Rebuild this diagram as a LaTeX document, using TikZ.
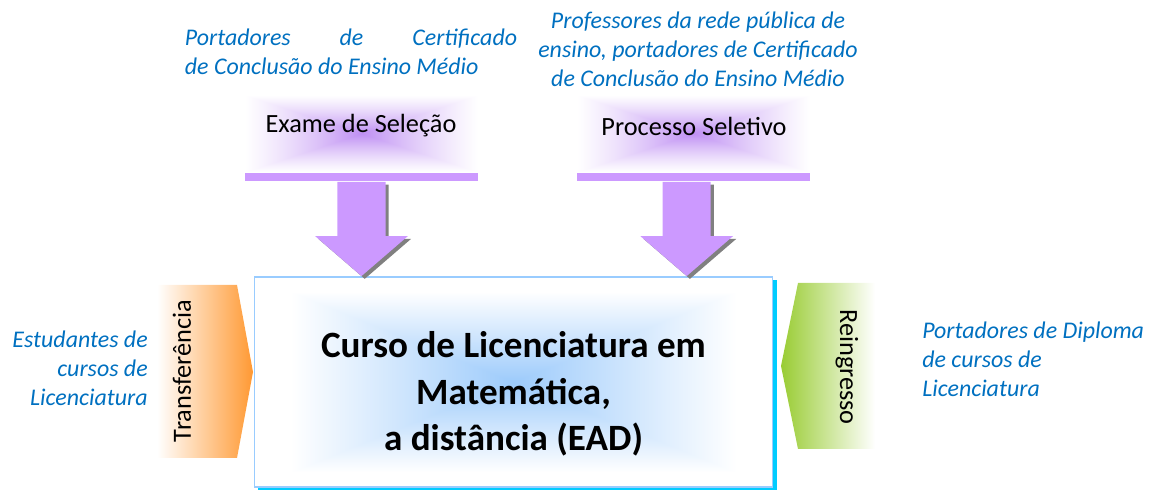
\documentclass[tikz,border=0pt]{standalone}
\usepackage{fontspec}
\setmainfont{Carlito}
\usetikzlibrary{calc,shadows}

\definecolor{textblue}{HTML}{0070C0}
\definecolor{barpurple}{HTML}{CC99FF}
\definecolor{arrowshadow}{HTML}{808080}
\definecolor{borderblue}{HTML}{99CCFF}
\definecolor{shadowcyan}{HTML}{00CCFF}
\definecolor{orangeA}{HTML}{FF9933}
\definecolor{greenA}{HTML}{99CC33}

% rectangular glows: colour fades from the centre to white at the border
\pgfdeclarefunctionalshading{purpleglow}{\pgfpoint{-50bp}{-50bp}}{\pgfpoint{50bp}{50bp}}{}{
  abs exch abs 2 copy lt {exch} if pop 25 div
  1 exch sub dup 0 lt {pop 0} if dup 0.3 mul 0.7 add mul
  dup dup 0.251 mul 1 exch sub exch 0.439 mul 1 exch sub 3 -1 roll 0.047 mul 1 exch sub
}
\pgfdeclarefunctionalshading{blueglow}{\pgfpoint{-50bp}{-50bp}}{\pgfpoint{50bp}{50bp}}{}{
  abs exch abs 2 copy lt {exch} if pop 21.5 div
  1 exch sub dup 0 lt {pop 0} if
  dup dup 0.384 mul 1 exch sub exch 0.204 mul 1 exch sub 3 -1 roll 0.016 mul 1 exch sub
}

% block arrow from #1 (top) down to #2 (tip)
\newcommand{\blockarrow}[2]{%
  \fill[arrowshadow, transform canvas={xshift=0.08cm, yshift=-0.07cm}] let \p1=(#1), \p2=(#2) in
    (\x1-0.6cm,\y1) -- (\x1+0.6cm,\y1) -- (\x1+0.6cm,\y2+1cm) -- (\x1+1.16cm,\y2+1cm)
    -- (\x1,\y2) -- (\x1-1.16cm,\y2+1cm) -- (\x1-0.6cm,\y2+1cm) -- cycle;
  \fill[barpurple] let \p1=(#1), \p2=(#2) in
    (\x1-0.6cm,\y1) -- (\x1+0.6cm,\y1) -- (\x1+0.6cm,\y2+1cm) -- (\x1+1.16cm,\y2+1cm)
    -- (\x1,\y2) -- (\x1-1.16cm,\y2+1cm) -- (\x1-0.6cm,\y2+1cm) -- cycle;
}

\tikzset{
  titletext/.style={font=\fontsize{18.7}{22}\selectfont, inner sep=0pt},
  barbox/.style={fill=barpurple, minimum width=5.83cm, minimum height=0.2cm, inner sep=0pt},
  note/.style={text=textblue, font=\fontsize{17}{20.6}\selectfont\itshape, inner sep=0pt},
  sidelabel/.style={font=\fontsize{18.7}{22}\selectfont, inner sep=0pt},
}

\begin{document}
\begin{tikzpicture}[x=0.025cm, y=-0.025cm]
  \useasboundingbox (0,0) rectangle (1151,497);

  % Texts on top
  \node[note, align=left] (certA) at (351,52)
    {\makebox[8.3cm][s]{Portadores de Certificado}\\de Conclusão do Ensino Médio};
  \node[note, align=center] (certB) at (698,49)
    {Professores da rede pública de\\ensino, portadores de Certificado\\de Conclusão do Ensino Médio};

  % Entry boxes
  \shade[shading=purpleglow] (245,95) rectangle (478,172);
  \shade[shading=purpleglow] (577,95) rectangle (810,172);
  \node[titletext] (exame) at (361,126) {Exame de Seleção};
  \node[titletext] (processo) at (694,126) {Processo Seletivo};
  \node[barbox] (barA) at (361.5,177.5) {};
  \node[barbox] (barB) at (693.5,177.5) {};

  % Main course box
  \node[draw=borderblue, line width=1.3pt, minimum width=12.95cm, minimum height=5.25cm,
    shade, shading=blueglow,
    drop shadow={fill=shadowcyan, opacity=1, shadow xshift=0.1cm, shadow yshift=-0.08cm}]
    (curso) at (513.5,382) {};
  \node[font=\fontsize{26.4}{33}\selectfont\bfseries, align=center] (cursotext)
    at ([yshift=-0.3cm]curso.center)
    {Curso de Licenciatura em\\Matemática,\\a distância (EAD)};

  % Arrows into the course
  \blockarrow{barA.south}{barA.south |- curso.north}
  \blockarrow{[xshift=-0.17cm]barB.south}{[xshift=-0.17cm]barB.south |- curso.north}

  % Side entries
  \shade[left color=white, right color=orangeA] (157,285) -- (237,285) -- (253,372)
    -- (237,458) -- (157,458) -- cycle;
  \node[sidelabel, rotate=90] (transf) at (182,371) {Transferência};
  \shade[left color=greenA, right color=white] (781,366) -- (798,283) -- (875,283)
    -- (875,449) -- (798,449) -- cycle;
  \node[sidelabel, rotate=-90] (reingr) at (847,367) {Reingresso};

  \node[note, align=right, anchor=east] (estud) at (148,368)
    {Estudantes de\\cursos de\\Licenciatura};
  \node[note, align=left, anchor=west] (diplom) at (922,359)
    {Portadores de Diploma\\de cursos de\\Licenciatura};
\end{tikzpicture}
\end{document}
